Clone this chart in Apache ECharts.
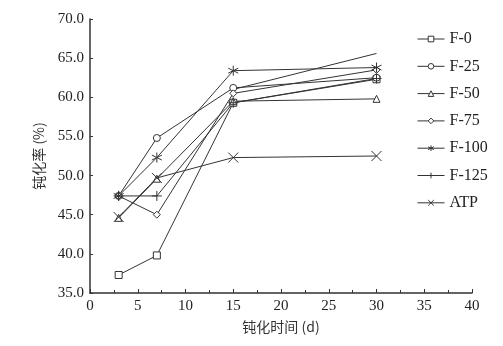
<!DOCTYPE html>
<html><head><meta charset="utf-8">
<script src="https://cdn.jsdelivr.net/npm/echarts@6/dist/echarts.min.js"></script>
<style>html,body{margin:0;padding:0;background:#fff}#c{width:503px;height:346px}</style>
</head><body><div id="c"></div>
<script>
const days = [3, 7, 15, 30];
const seriesNames = ['F-0', 'F-25', 'F-50', 'F-75', 'F-100', 'F-125', 'ATP'];
const f0 = [37.3, 39.8, 59.3, 62.3];
const f25 = [47.4, 54.8, 61.2, 62.5];
const f50 = [44.6, 49.6, 59.5, 59.8];
const f75 = [47.4, 45.0, 60.5, 63.5];
const f100 = [47.4, 52.3, 63.4, 63.8];
const f125 = [47.4, 47.4, 59.3, 62.4];
const atp = [44.7, 49.7, 52.3, 52.5];
const extraDays = [15, 30];
const extraLine = [61.0, 65.6];
const xTicks = [0, 5, 10, 15, 20, 25, 30, 35, 40];
const yTicks = [35, 40, 45, 50, 55, 60, 65, 70];

const values = [f0, f25, f50, f75, f100, f125, atp];
const symbols = [
  'rect', 'circle', 'triangle', 'diamond',
  'path://M5,0L5,10M0,2.5L10,7.5M0,7.5L10,2.5',
  'path://M5,0L5,10M0,5L10,5',
  'path://M0,1L10,9M0,9L10,1'
];
const serif = '"Liberation Serif","DejaVu Serif",serif';
const series = values.map((v, i) => ({
  name: seriesNames[i], type: 'line',
  data: days.map((d, j) => [d, v[j]]),
  symbol: symbols[i], symbolSize: i >= 4 ? 10 : 7,
  lineStyle: { color: '#333', width: 1 },
  itemStyle: { color: i >= 4 ? '#333' : '#fff', borderColor: '#333', borderWidth: 1 },
  emphasis: { disabled: true }, z: 3
}));
series.push({
  name: 'extra', type: 'line', symbol: 'none',
  data: extraDays.map((d, j) => [d, extraLine[j]]),
  lineStyle: { color: '#333', width: 1 }, z: 2
});
const chart = echarts.init(document.getElementById('c'));
chart.setOption({
  animation: false,
  grid: { left: 90, right: 31, top: 19, bottom: 53 },
  legend: {
    data: seriesNames, orient: 'vertical', left: 412, top: 26,
    itemWidth: 27, itemHeight: 7, itemGap: 11.3,
    itemStyle: { borderWidth: 1 },
    lineStyle: { width: 1 },
    textStyle: { fontFamily: serif, fontSize: 16, color: '#222' }
  },
  xAxis: {
    type: 'value', min: 0, max: 40, interval: 5,
    name: '钝化时间 (d)', nameLocation: 'middle', nameGap: 27,
    nameTextStyle: { fontFamily: '"Noto Sans CJK SC",' + serif, fontSize: 14, color: '#333' },
    axisLine: { lineStyle: { color: '#333', width: 1.5 } },
    axisTick: { inside: true, length: 4, lineStyle: { color: '#333' } },
    minorTick: { show: true, splitNumber: 2, length: 3, lineStyle: { color: '#333' } },
    splitLine: { show: false },
    axisLabel: { fontFamily: serif, fontSize: 15, color: '#222', margin: 6, formatter: v => xTicks.includes(v) ? String(v) : '' }
  },
  yAxis: {
    type: 'value', min: 35, max: 70, interval: 5,
    name: '钝化率 (%)', nameLocation: 'middle', nameGap: 44, nameRotate: 90,
    nameTextStyle: { fontFamily: '"Noto Sans CJK SC",' + serif, fontSize: 14, color: '#333' },
    axisLine: { show: true, lineStyle: { color: '#333', width: 1.5 } },
    axisTick: { show: true, inside: true, length: 3, lineStyle: { color: '#333' } },
    splitLine: { show: false },
    axisLabel: { fontFamily: serif, fontSize: 15, color: '#222', margin: 6, formatter: v => yTicks.includes(v) ? v.toFixed(1) : '' }
  },
  series: series
});
</script></body></html>
